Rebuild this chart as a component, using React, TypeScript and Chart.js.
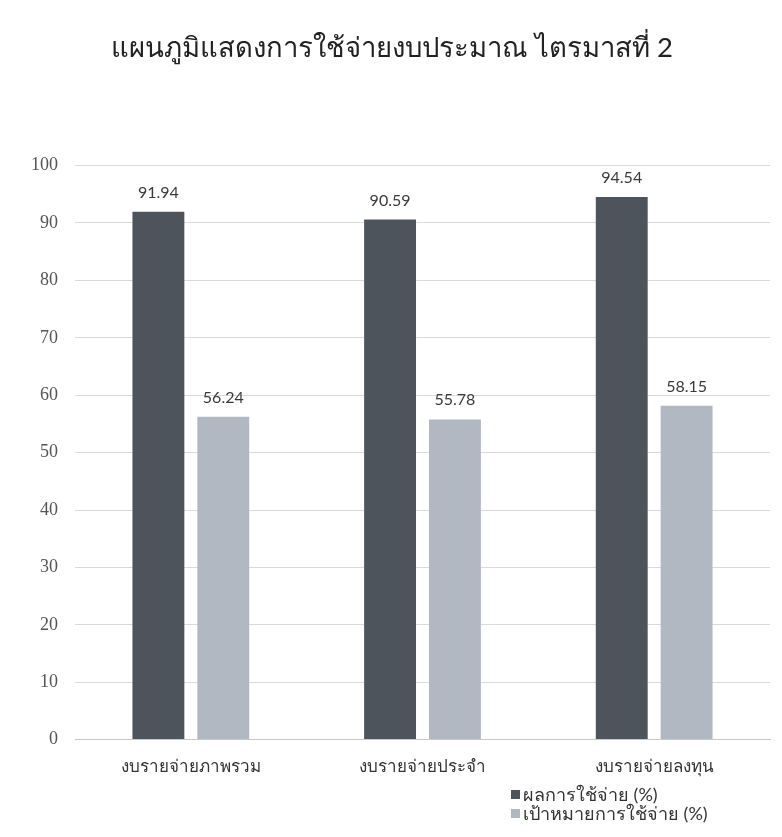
import React, { useEffect, useRef } from "react";
import { Chart, registerables } from "chart.js";

Chart.register(...registerables);

const titleText = "แผนภูมิแสดงการใช้จ่ายงบประมาณ ไตรมาสที่ 2";
const categories = ["งบรายจ่ายภาพรวม", "งบรายจ่ายประจำ", "งบรายจ่ายลงทุน"];
const seriesNames = ["ผลการใช้จ่าย (%)", "เป้าหมายการใช้จ่าย (%)"];
const actualValues = [91.94, 90.59, 94.54];
const targetValues = [56.24, 55.78, 58.15];
const seriesColors = ["#4e545c", "#b2b8c2"];
const yMin = 0;
const yMax = 100;
const yStep = 10;

const FONT = "Lato, 'DejaVu Sans', 'Noto Sans', sans-serif";
const SERIF = "'Liberation Serif', 'DejaVu Serif', serif";

const valueLabels = {
  id: "valueLabels",
  afterDatasetsDraw(chart: any) {
    const ctx = chart.ctx;
    ctx.save();
    ctx.font = `16px ${FONT}`;
    ctx.fillStyle = "#3a3a3a";
    ctx.textAlign = "center";
    ctx.textBaseline = "alphabetic";
    chart.data.datasets.forEach((ds: any, i: number) => {
      const meta = chart.getDatasetMeta(i);
      meta.data.forEach((bar: any, j: number) => {
        ctx.fillText(ds.data[j].toFixed(2), bar.x, bar.y - 14);
      });
    });
    ctx.restore();
  },
};

export default function App() {
  const ref = useRef<HTMLCanvasElement | null>(null);
  useEffect(() => {
    if (!ref.current) return;
    const chart = new Chart(ref.current, {
      type: "bar",
      data: {
        labels: categories,
        datasets: [
          { label: seriesNames[0], data: actualValues, backgroundColor: seriesColors[0], categoryPercentage: 0.56, barPercentage: 0.8 },
          { label: seriesNames[1], data: targetValues, backgroundColor: seriesColors[1], categoryPercentage: 0.56, barPercentage: 0.8 },
        ],
      },
      options: {
        animation: false,
        responsive: false,
        layout: { padding: { left: 14, right: 12, top: 32, bottom: 43 } },
        plugins: {
          legend: { display: false },
          tooltip: { enabled: false },
          title: {
            display: true,
            text: titleText,
            color: "#222222",
            font: { family: FONT, size: 27.5, weight: "normal" },
            padding: { top: 0, bottom: 100.6 },
          },
        },
        scales: {
          x: {
            grid: { display: false, drawTicks: false },
            border: { color: "#c8c8c8" },
            ticks: { color: "#333333", font: { family: FONT, size: 17 }, padding: 17 },
          },
          y: {
            min: yMin,
            max: yMax,
            ticks: { stepSize: yStep, color: "#555555", font: { family: SERIF, size: 18 }, padding: 17 },
            grid: { color: "#dadada", drawTicks: false },
            border: { display: false },
          },
        },
      },
      plugins: [valueLabels],
    });
    return () => chart.destroy();
  }, []);

  return (
    <div style={{ position: "fixed", left: 0, top: 0, width: 782, height: 837, background: "#ffffff" }}>
      <canvas ref={ref} width={782} height={837} style={{ width: 782, height: 837, display: "block" }} />
      <div style={{ position: "absolute", left: 511, top: 785, fontFamily: FONT, fontSize: 18, color: "#333333", lineHeight: "19px" }}>
        {seriesNames.map((n, i) => (
          <div key={n} style={{ display: "flex", alignItems: "center" }}>
            <span style={{ display: "inline-block", width: 9, height: 9, background: seriesColors[i], marginRight: 3 }} />
            {n}
          </div>
        ))}
      </div>
    </div>
  );
}
